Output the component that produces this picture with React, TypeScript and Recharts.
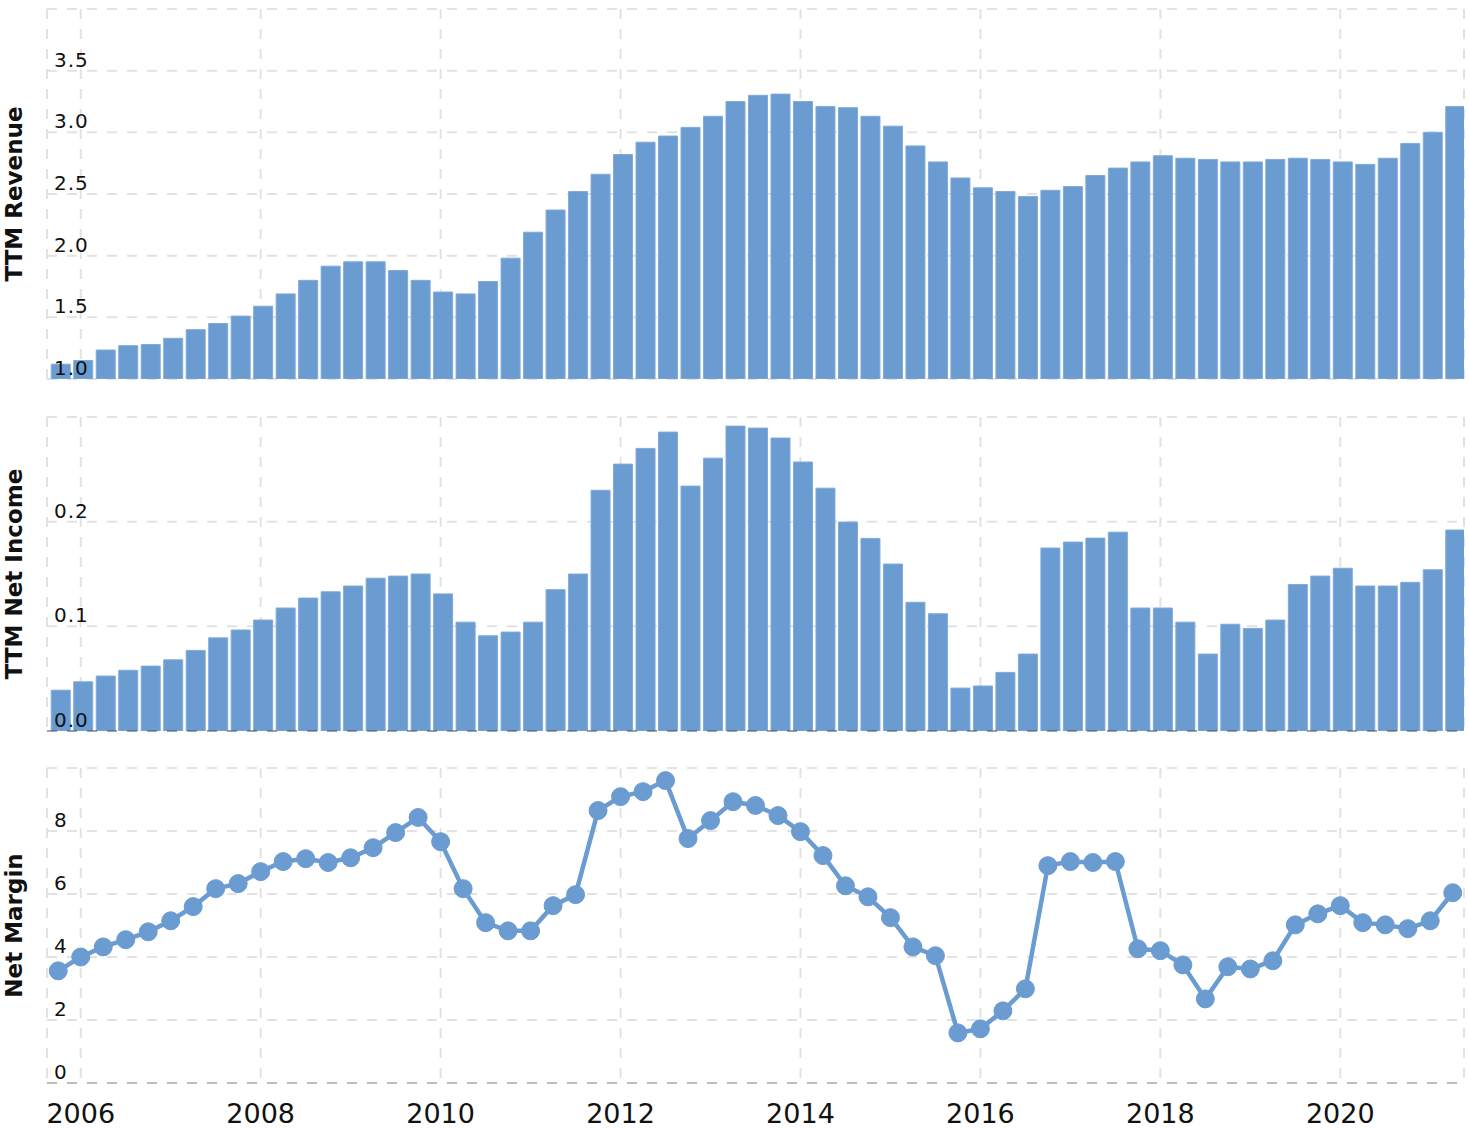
import React from 'react';
import { ComposedChart, Bar, Line, XAxis, YAxis, CartesianGrid, ReferenceLine } from 'recharts';

const quarters = [
  '2005-09-30', '2005-12-31', '2006-03-31', '2006-06-30', '2006-09-30', '2006-12-31', '2007-03-31', '2007-06-30',
  '2007-09-30', '2007-12-31', '2008-03-31', '2008-06-30', '2008-09-30', '2008-12-31', '2009-03-31', '2009-06-30',
  '2009-09-30', '2009-12-31', '2010-03-31', '2010-06-30', '2010-09-30', '2010-12-31', '2011-03-31', '2011-06-30',
  '2011-09-30', '2011-12-31', '2012-03-31', '2012-06-30', '2012-09-30', '2012-12-31', '2013-03-31', '2013-06-30',
  '2013-09-30', '2013-12-31', '2014-03-31', '2014-06-30', '2014-09-30', '2014-12-31', '2015-03-31', '2015-06-30',
  '2015-09-30', '2015-12-31', '2016-03-31', '2016-06-30', '2016-09-30', '2016-12-31', '2017-03-31', '2017-06-30',
  '2017-09-30', '2017-12-31', '2018-03-31', '2018-06-30', '2018-09-30', '2018-12-31', '2019-03-31', '2019-06-30',
  '2019-09-30', '2019-12-31', '2020-03-31', '2020-06-30', '2020-09-30', '2020-12-31', '2021-03-31',
];

const revenue = [
  1.12, 1.15, 1.235, 1.27, 1.28, 1.33, 1.40, 1.45, 1.51, 1.59, 1.69, 1.80, 1.915, 1.95, 1.95, 1.88,
  1.80, 1.705, 1.69, 1.79, 1.98, 2.19, 2.37, 2.52, 2.66, 2.82, 2.92, 2.97, 3.04, 3.13, 3.25, 3.30,
  3.31, 3.25, 3.21, 3.20, 3.13, 3.05, 2.89, 2.76, 2.63, 2.55, 2.52, 2.48, 2.53, 2.56, 2.65, 2.71,
  2.76, 2.81, 2.79, 2.78, 2.76, 2.76, 2.78, 2.79, 2.78, 2.76, 2.74, 2.79, 2.91, 3.00, 3.21,
];

const netIncome = [
  0.039, 0.047, 0.0525, 0.058, 0.062, 0.068, 0.077, 0.089, 0.0965, 0.106, 0.1175, 0.127, 0.133, 0.1385, 0.146, 0.148,
  0.150, 0.131, 0.104, 0.091, 0.0945, 0.104, 0.135, 0.150, 0.230, 0.255, 0.270, 0.2856, 0.234, 0.2607, 0.2913, 0.2894,
  0.2799, 0.257, 0.232, 0.1996, 0.184, 0.1595, 0.123, 0.112, 0.041, 0.043, 0.056, 0.0735, 0.1748, 0.1805, 0.1843, 0.190,
  0.1175, 0.1175, 0.104, 0.0735, 0.102, 0.098, 0.106, 0.140, 0.148, 0.1555, 0.1385, 0.1385, 0.142, 0.154, 0.192,
];

const netMargin = [
  3.56, 4.0, 4.32, 4.55, 4.80, 5.15, 5.60, 6.17, 6.33, 6.71, 7.03, 7.12, 7.0, 7.15, 7.47, 7.95,
  8.43, 7.66, 6.17, 5.09, 4.83, 4.83, 5.63, 5.98, 8.65, 9.09, 9.25, 9.60, 7.76, 8.33, 8.93, 8.81,
  8.49, 7.98, 7.22, 6.26, 5.91, 5.25, 4.32, 4.04, 1.59, 1.72, 2.29, 2.99, 6.90, 7.03, 7.0, 7.03,
  4.26, 4.20, 3.75, 2.67, 3.69, 3.62, 3.88, 5.02, 5.37, 5.63, 5.09, 5.02, 4.90, 5.15, 6.04,
];

const yearTicks = [1, 9, 17, 25, 33, 41, 49, 57];
const yearLabels = ['2006', '2008', '2010', '2012', '2014', '2016', '2018', '2020'];
const revenueTicks = [1, 1.5, 2, 2.5, 3, 3.5, 4];
const incomeTicks = [0, 0.1, 0.2, 0.3];
const marginTicks = [0, 2, 4, 6, 8, 10];

const data = quarters.map((q, i) => ({
  i,
  q,
  revenue: revenue[i],
  netIncome: netIncome[i],
  netMargin: netMargin[i],
}));

const W = 1468;
const H = 1128;
const FONT = 'DejaVu Sans, Verdana, sans-serif';
const BLUE = '#6a9bd1';
const BAR_STROKE = '#7faadb';
const GRID = '#e2e2e2';
const X_DOMAIN: [number, number] = [-0.5, 62.5];
// bars sit a couple of pixels right of the quarter positions in the original
const BAR_DOMAIN: [number, number] = [-0.6, 62.4];

const makeYTick = (skip: number, fmt: (v: number) => string) => (props: any) => {
  const { y, payload } = props;
  if (payload.value === skip) return <g />;
  return (
    <text x={54} y={y - 4} fontSize={20} fill="#111" fontFamily={FONT} textAnchor="start" letterSpacing={1}>
      {fmt(payload.value)}
    </text>
  );
};

const makeTitle = (title: string) => (props: any) => {
  const vb = props.viewBox || {};
  const cy = (vb.y ?? 0) + (vb.height ?? 0) / 2;
  return (
    <text
      x={22}
      y={cy}
      transform={`rotate(-90, 22, ${cy})`}
      textAnchor="middle"
      fontSize={23}
      fontWeight="bold"
      fill="#111"
      fontFamily={FONT}
    >
      {title}
    </text>
  );
};

const XTick = (props: any) => {
  const { x, payload } = props;
  const idx = yearTicks.indexOf(payload.value);
  return (
    <text x={x} y={1123} fontSize={27} fill="#111" fontFamily={FONT} textAnchor="middle">
      {idx >= 0 ? yearLabels[idx] : ''}
    </text>
  );
};

const layer: React.CSSProperties = { position: 'absolute', left: 0, top: 0 };

export default function App() {
  return (
    <div style={{ position: 'absolute', left: 0, top: 0, width: W, height: H, background: '#fff' }}>
      <div style={layer}>
        <ComposedChart width={W} height={H} data={data} margin={{ top: 9, right: 4, bottom: 749, left: 0 }}>
          <CartesianGrid stroke={GRID} strokeWidth={2} strokeDasharray="10 10" />
          <XAxis type="number" dataKey="i" domain={X_DOMAIN} ticks={yearTicks} hide allowDataOverflow interval={0} />
          <XAxis xAxisId="bars" type="number" dataKey="i" domain={BAR_DOMAIN} hide allowDataOverflow />
          <YAxis
            type="number"
            width={47}
            domain={[1, 4]}
            ticks={revenueTicks}
            allowDataOverflow
            axisLine={false}
            tickLine={false}
            interval={0}
            tick={makeYTick(4, (v) => v.toFixed(1))}
            label={{ content: makeTitle('TTM Revenue') }}
          />
          <Bar xAxisId="bars" dataKey="revenue" fill={BLUE} stroke={BAR_STROKE} strokeWidth={1} barSize={19} isAnimationActive={false} />
        </ComposedChart>
      </div>
      <div style={layer}>
        <ComposedChart width={W} height={H} data={data} margin={{ top: 417, right: 4, bottom: 397, left: 0 }}>
          <CartesianGrid stroke={GRID} strokeWidth={2} strokeDasharray="10 10" />
          <XAxis type="number" dataKey="i" domain={X_DOMAIN} ticks={yearTicks} hide allowDataOverflow interval={0} />
          <XAxis xAxisId="bars" type="number" dataKey="i" domain={BAR_DOMAIN} hide allowDataOverflow />
          <YAxis
            type="number"
            width={47}
            domain={[0, 0.3]}
            ticks={incomeTicks}
            allowDataOverflow
            axisLine={false}
            tickLine={false}
            interval={0}
            tick={makeYTick(0.3, (v) => v.toFixed(1))}
            label={{ content: makeTitle('TTM Net Income') }}
          />
          <Bar xAxisId="bars" dataKey="netIncome" fill={BLUE} stroke={BAR_STROKE} strokeWidth={1} barSize={19} isAnimationActive={false} />
          <ReferenceLine y={0} stroke="#000" strokeOpacity={0.28} strokeWidth={2} strokeDasharray="10 10" />
        </ComposedChart>
      </div>
      <div style={layer}>
        <ComposedChart width={W} height={H} data={data} margin={{ top: 768, right: 4, bottom: 5, left: 0 }}>
          <CartesianGrid stroke={GRID} strokeWidth={2} strokeDasharray="10 10" />
          <XAxis
            type="number"
            dataKey="i"
            domain={X_DOMAIN}
            ticks={yearTicks}
            allowDataOverflow
            interval={0}
            height={40}
            tickLine={false}
            axisLine={{ stroke: '#bdbdbd', strokeWidth: 2, strokeDasharray: '10 10' }}
            tick={XTick}
          />
          <YAxis
            type="number"
            width={47}
            domain={[0, 10]}
            ticks={marginTicks}
            allowDataOverflow
            axisLine={false}
            tickLine={false}
            interval={0}
            tick={makeYTick(10, (v) => String(v))}
            label={{ content: makeTitle('Net Margin') }}
          />
          <Line
            type="linear"
            dataKey="netMargin"
            stroke={BLUE}
            strokeWidth={4.5}
            dot={{ r: 9, fill: BLUE, stroke: BLUE, strokeWidth: 1 }}
            activeDot={false}
            isAnimationActive={false}
          />
        </ComposedChart>
      </div>
    </div>
  );
}
